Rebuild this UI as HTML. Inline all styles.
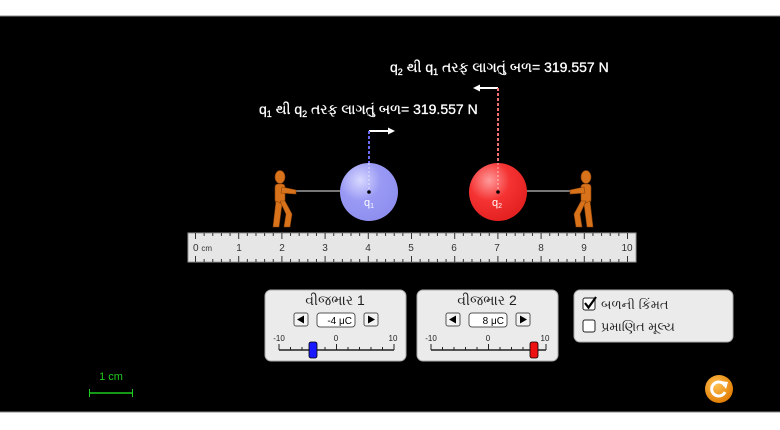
<!DOCTYPE html>
<html><head><meta charset="utf-8"><style>
body{margin:0;background:#fff;}
svg{display:block;font-family:"Liberation Sans","Noto Sans CJK SC",sans-serif;}
</style></head><body>
<svg id="s" width="780" height="430" viewBox="0 0 780 430" xmlns="http://www.w3.org/2000/svg">
<defs>
<radialGradient id="gb" cx="0.35" cy="0.3" r="0.7"><stop offset="0" stop-color="#d8d8ff"/><stop offset="0.5" stop-color="#9a9af5"/><stop offset="1" stop-color="#8f8fef"/></radialGradient>
<radialGradient id="gr" cx="0.35" cy="0.3" r="0.7"><stop offset="0" stop-color="#ff9a9a"/><stop offset="0.5" stop-color="#f53333"/><stop offset="1" stop-color="#e52222"/></radialGradient>
<radialGradient id="go" cx="0.4" cy="0.35" r="0.7"><stop offset="0" stop-color="#ffc050"/><stop offset="1" stop-color="#e07a00"/></radialGradient>
</defs>
<rect x="0" y="16" width="780" height="396" fill="#000"/>
<line x1="0" y1="16" x2="780" y2="16" stroke="#888"/>
<line x1="0" y1="412" x2="780" y2="412" stroke="#888"/>

<text x="390" y="72" fill="#fff" font-size="14" stroke="#fff" stroke-width="0.3">q<tspan font-size="9" dy="3">2</tspan><tspan dy="-3"> થી q</tspan><tspan font-size="9" dy="3">1</tspan><tspan dy="-3"> તરફ લાગતું બળ= 319.557 N</tspan></text>
<text x="259" y="114" fill="#fff" font-size="14" stroke="#fff" stroke-width="0.3">q<tspan font-size="9" dy="3">1</tspan><tspan dy="-3"> થી q</tspan><tspan font-size="9" dy="3">2</tspan><tspan dy="-3"> તરફ લાગતું બળ= 319.557 N</tspan></text>

<line x1="369" y1="131" x2="390" y2="131" stroke="#fff" stroke-width="2"/>
<polygon points="395,131 388,127.5 388,134.5" fill="#fff"/>
<line x1="369" y1="131" x2="369" y2="192" stroke="#6a6af0" stroke-width="2" stroke-dasharray="3,2"/>
<line x1="498" y1="88" x2="479" y2="88" stroke="#fff" stroke-width="2"/>
<polygon points="473,88 480,84.5 480,91.5" fill="#fff"/>
<line x1="498" y1="88" x2="498" y2="192" stroke="#f07070" stroke-width="2" stroke-dasharray="3,2"/>

<line x1="293" y1="191" x2="340" y2="191" stroke="#777" stroke-width="2"/>
<line x1="526" y1="191" x2="572" y2="191" stroke="#777" stroke-width="2"/>

<circle cx="369" cy="192" r="29" fill="url(#gb)"/>
<line x1="369" y1="163" x2="369" y2="192" stroke="#fff" stroke-width="1" stroke-dasharray="2,2" opacity="0.6"/>
<circle cx="369" cy="192" r="1.8" fill="#000"/>
<text x="364" y="206" fill="#fff" font-size="11">q<tspan font-size="7" dy="2">1</tspan></text>
<circle cx="498" cy="192" r="29" fill="url(#gr)"/>
<line x1="498" y1="163" x2="498" y2="192" stroke="#fff" stroke-width="1" stroke-dasharray="2,2" opacity="0.6"/>
<circle cx="498" cy="192" r="1.8" fill="#000"/>
<text x="492" y="206" fill="#fff" font-size="11">q<tspan font-size="7" dy="2">2</tspan></text>

<g fill="#d9731b" stroke="#8a4208" stroke-width="0.6">
 <ellipse cx="280" cy="177" rx="5" ry="6.5"/>
 <rect x="275" y="184" width="10" height="19" rx="3"/>
 <path d="M282 187 L296 190 L296 194 L281 193Z"/>
 <path d="M276 201 L273 227 L279 227 L282 204Z"/>
 <path d="M280 201 L286 214 L284 227 L290 227 L292 214 L285 201Z"/>
</g>
<g fill="#d9731b" stroke="#8a4208" stroke-width="0.6">
 <ellipse cx="586" cy="177" rx="5" ry="6.5"/>
 <rect x="581" y="184" width="10" height="19" rx="3"/>
 <path d="M584 187 L570 190 L570 194 L585 193Z"/>
 <path d="M590 201 L593 227 L587 227 L584 204Z"/>
 <path d="M586 201 L580 214 L582 227 L576 227 L574 214 L581 201Z"/>
</g>

<rect x="188" y="233" width="448" height="29" fill="#e6e6e6" stroke="#999"/>
<g id="ticks" stroke="#333" stroke-width="1"></g>
<g fill="#333" font-size="10" text-anchor="middle">
<text x="193" y="251" text-anchor="start">0 <tspan font-size="8">cm</tspan></text>
<text x="239" y="251">1</text><text x="282" y="251">2</text><text x="325" y="251">3</text><text x="368" y="251">4</text><text x="411" y="251">5</text><text x="454" y="251">6</text><text x="497" y="251">7</text><text x="541" y="251">8</text><text x="584" y="251">9</text><text x="627" y="251">10</text>
</g>

<rect x="265" y="290" width="141" height="71" rx="6" fill="#ebebeb" stroke="#aaa"/>
<text x="335" y="305" font-size="14" text-anchor="middle" fill="#222">વીજભાર 1</text>
<rect x="294" y="313" width="14" height="13" rx="2" fill="#f4f4f4" stroke="#555"/><polygon points="297,319.5 304,315.5 304,323.5" fill="#000"/>
<rect x="317" y="313" width="38" height="14" rx="3" fill="#fff" stroke="#555"/><text x="352" y="324" font-size="10" text-anchor="end">-4 μC</text>
<rect x="364" y="313" width="14" height="13" rx="2" fill="#f4f4f4" stroke="#555"/><polygon points="375,319.5 368,315.5 368,323.5" fill="#000"/>
<g font-size="8" fill="#222" text-anchor="middle"><text x="279" y="341">-10</text><text x="336" y="341">0</text><text x="393" y="341">10</text></g>
<line x1="279" y1="350" x2="394" y2="350" stroke="#222" stroke-width="1.5"/>
<g id="t1" stroke="#222"></g>
<rect x="309" y="342" width="8" height="16" rx="2" fill="#1a1aff" stroke="#000" stroke-width="0.8"/>

<rect x="417" y="290" width="141" height="71" rx="6" fill="#ebebeb" stroke="#aaa"/>
<text x="487" y="305" font-size="14" text-anchor="middle" fill="#222">વીજભાર 2</text>
<rect x="446" y="313" width="14" height="13" rx="2" fill="#f4f4f4" stroke="#555"/><polygon points="449,319.5 456,315.5 456,323.5" fill="#000"/>
<rect x="469" y="313" width="38" height="14" rx="3" fill="#fff" stroke="#555"/><text x="504" y="324" font-size="10" text-anchor="end">8 μC</text>
<rect x="516" y="313" width="14" height="13" rx="2" fill="#f4f4f4" stroke="#555"/><polygon points="527,319.5 520,315.5 520,323.5" fill="#000"/>
<g font-size="8" fill="#222" text-anchor="middle"><text x="431" y="341">-10</text><text x="488" y="341">0</text><text x="545" y="341">10</text></g>
<line x1="431" y1="350" x2="546" y2="350" stroke="#222" stroke-width="1.5"/>
<g id="t2" stroke="#222"></g>
<rect x="530" y="342" width="8" height="16" rx="2" fill="#ee1111" stroke="#000" stroke-width="0.8"/>

<rect x="574" y="290" width="159" height="52" rx="6" fill="#ebebeb" stroke="#aaa"/>
<rect x="583" y="298" width="12" height="12" rx="2" fill="#fff" stroke="#222"/>
<path d="M585 303 L588.5 307.5 L596 297" fill="none" stroke="#000" stroke-width="2.2"/>
<text x="601" y="309" font-size="13" fill="#222">બળની કિંમત</text>
<rect x="583" y="320" width="12" height="12" rx="2" fill="#fff" stroke="#222"/>
<text x="601" y="331" font-size="13" fill="#222">પ્રમાણિત મૂલ્ય</text>

<text x="111" y="380" font-size="11" fill="#1ecb1e" text-anchor="middle">1 cm</text>
<line x1="90" y1="393" x2="132" y2="393" stroke="#1ecb1e" stroke-width="1.5"/>
<line x1="89.5" y1="389" x2="89.5" y2="397" stroke="#1ecb1e"/>
<line x1="132.5" y1="389" x2="132.5" y2="397" stroke="#1ecb1e"/>

<circle cx="719" cy="389" r="14" fill="url(#go)"/>
<path d="M725 386 A7 7 0 1 0 725 392" fill="none" stroke="#fff" stroke-width="3"/>
<polygon points="720,381 728,382 726,389" fill="#fff"/>
</svg>
<script>
var ns="http://www.w3.org/2000/svg",g=document.getElementById("ticks");
for(var i=0;i<=50;i++){var x=195.5+i*43.2/5;var L=(i%5==0)?6:3;
[[233,233+L],[262-L,262]].forEach(function(p){var l=document.createElementNS(ns,"line");l.setAttribute("x1",x);l.setAttribute("x2",x);l.setAttribute("y1",p[0]);l.setAttribute("y2",p[1]);g.appendChild(l);});}
[["t1",279],["t2",431]].forEach(function(a){var t=document.getElementById(a[0]);for(var i=0;i<=10;i++){var x=a[1]+i*11.5;var l=document.createElementNS(ns,"line");l.setAttribute("x1",x);l.setAttribute("x2",x);l.setAttribute("y1",(i%5==0)?344:347);l.setAttribute("y2",350);t.appendChild(l);}});
</script>
</body></html>
